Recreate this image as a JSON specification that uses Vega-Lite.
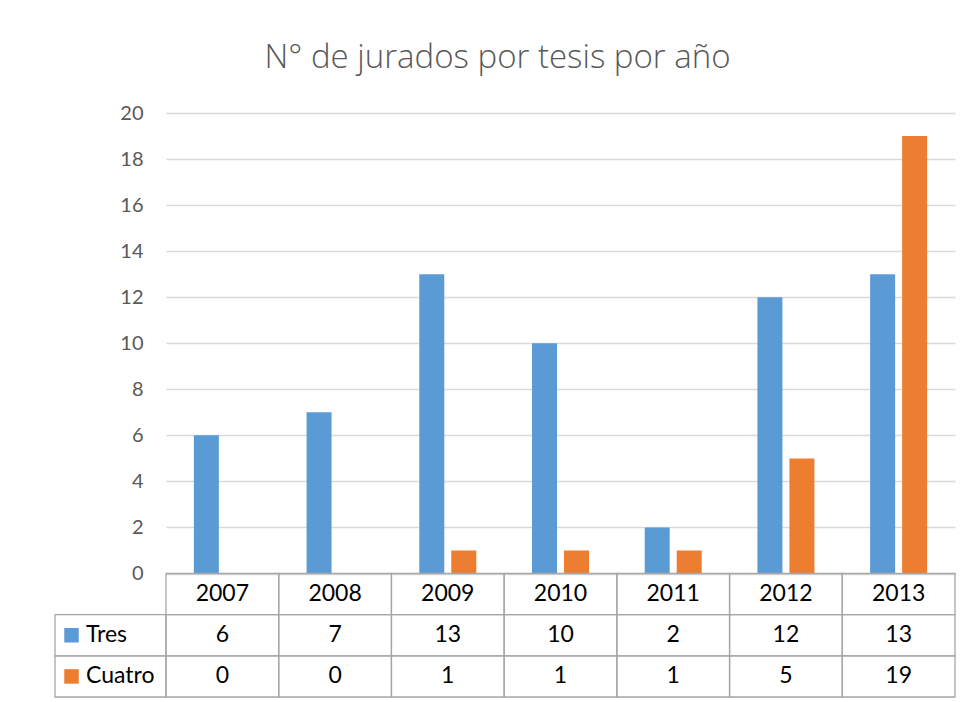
{
  "$schema": "https://vega.github.io/schema/vega-lite/v6.json",
  "width": 789,
  "height": 584,
  "autosize": {"type": "none"},
  "padding": {"left": 166, "top": 113, "right": 16, "bottom": 5},
  "background": "white",
  "config": {
    "view": {"stroke": null},
    "font": "Lato",
    "text": {"font": "Lato"}
  },
  "title": {
    "text": "N° de jurados por tesis por año",
    "font": "Open Sans",
    "fontSize": 33,
    "fontWeight": 300,
    "color": "#595959",
    "anchor": "middle",
    "frame": "group",
    "baseline": "alphabetic",
    "dx": -63,
    "offset": 2
  },
  "datasets": {
    "bars": [
      {"year": "2007", "series": "Tres", "value": 6},
      {"year": "2008", "series": "Tres", "value": 7},
      {"year": "2009", "series": "Tres", "value": 13},
      {"year": "2010", "series": "Tres", "value": 10},
      {"year": "2011", "series": "Tres", "value": 2},
      {"year": "2012", "series": "Tres", "value": 12},
      {"year": "2013", "series": "Tres", "value": 13},
      {"year": "2007", "series": "Cuatro", "value": 0},
      {"year": "2008", "series": "Cuatro", "value": 0},
      {"year": "2009", "series": "Cuatro", "value": 1},
      {"year": "2010", "series": "Cuatro", "value": 1},
      {"year": "2011", "series": "Cuatro", "value": 1},
      {"year": "2012", "series": "Cuatro", "value": 5},
      {"year": "2013", "series": "Cuatro", "value": 19}
    ]
  },
  "data": {"name": "bars"},
  "layer": [
    {
      "mark": {"type": "bar"},
      "encoding": {
        "x": {
          "field": "year", "type": "nominal",
          "scale": {"domain": ["2007", "2008", "2009", "2010", "2011", "2012", "2013"], "range": [0, 789], "paddingInner": 0, "paddingOuter": 0},
          "axis": null
        },
        "xOffset": {
          "field": "series", "type": "nominal",
          "scale": {"domain": ["Tres", "Cuatro"], "paddingInner": 0.219, "paddingOuter": 0.87}
        },
        "y": {
          "field": "value", "type": "quantitative",
          "scale": {"domain": [0, 20], "range": [460.5, 0], "nice": false, "zero": true},
          "axis": {
            "values": [0, 2, 4, 6, 8, 10, 12, 14, 16, 18, 20],
            "title": null,
            "domain": false,
            "ticks": false,
            "tickSize": 0,
            "labelPadding": 23,
            "labelFont": "Lato",
            "labelFontSize": 20,
            "labelColor": "#595959",
            "grid": true,
            "gridColor": "#d9d9d9",
            "gridWidth": 1.3
          }
        },
        "color": {
          "field": "series", "type": "nominal",
          "scale": {"domain": ["Tres", "Cuatro"], "range": ["#5b9bd5", "#ed7d31"]},
          "legend": null
        }
      }
    },
    {
      "encoding": {
        "x": {
          "field": "year", "type": "nominal",
          "scale": {"domain": ["2007", "2008", "2009", "2010", "2011", "2012", "2013"], "range": [0, 789], "paddingInner": 0, "paddingOuter": 0},
          "axis": null
        },
        "y": {
          "field": "series", "type": "nominal",
          "scale": {"domain": ["header", "Tres", "Cuatro"], "range": [460.5, 584], "paddingInner": 0, "paddingOuter": 0},
          "axis": null
        }
      },
      "layer": [
        {"mark": {"type": "rect", "fill": "white", "fillOpacity": 0, "stroke": "#a6a6a6", "strokeWidth": 1.3}},
        {"mark": {"type": "text", "fontSize": 23, "color": "#000000", "baseline": "middle"}, "encoding": {"text": {"field": "value", "type": "quantitative"}}}
      ]
    },
    {
      "transform": [{"filter": "datum.series === 'Tres'"}],
      "encoding": {
        "x": {
          "field": "year", "type": "nominal",
          "scale": {"domain": ["2007", "2008", "2009", "2010", "2011", "2012", "2013"], "range": [0, 789], "paddingInner": 0, "paddingOuter": 0},
          "axis": null
        },
        "y": {
          "datum": "header", "type": "nominal",
          "scale": {"domain": ["header", "Tres", "Cuatro"], "range": [460.5, 584], "paddingInner": 0, "paddingOuter": 0},
          "axis": null
        }
      },
      "layer": [
        {"mark": {"type": "rect", "fill": "white", "fillOpacity": 0, "stroke": "#a6a6a6", "strokeWidth": 1.3}},
        {"mark": {"type": "text", "fontSize": 23, "color": "#000000", "baseline": "middle"}, "encoding": {"text": {"field": "year", "type": "nominal"}}}
      ]
    },
    {
      "transform": [{"filter": "datum.year === '2007'"}],
      "encoding": {
        "x": {
          "datum": "label", "type": "nominal",
          "scale": {"domain": ["label"], "range": [-111, 0], "paddingInner": 0, "paddingOuter": 0},
          "axis": null
        },
        "y": {
          "field": "series", "type": "nominal",
          "scale": {"domain": ["header", "Tres", "Cuatro"], "range": [460.5, 584], "paddingInner": 0, "paddingOuter": 0},
          "axis": null
        }
      },
      "layer": [
        {"mark": {"type": "rect", "fill": "white", "fillOpacity": 0, "stroke": "#a6a6a6", "strokeWidth": 1.3}},
        {
          "mark": {"type": "point", "shape": "square", "filled": true, "opacity": 1, "size": 210, "xOffset": -39},
          "encoding": {
            "color": {
              "field": "series", "type": "nominal",
              "scale": {"domain": ["Tres", "Cuatro"], "range": ["#5b9bd5", "#ed7d31"]},
              "legend": null
            }
          }
        },
        {"mark": {"type": "text", "fontSize": 23, "color": "#000000", "baseline": "middle", "align": "left", "dx": -24.5}, "encoding": {"text": {"field": "series", "type": "nominal"}}}
      ]
    }
  ],
  "resolve": {"scale": {"x": "independent", "y": "independent"}}
}
